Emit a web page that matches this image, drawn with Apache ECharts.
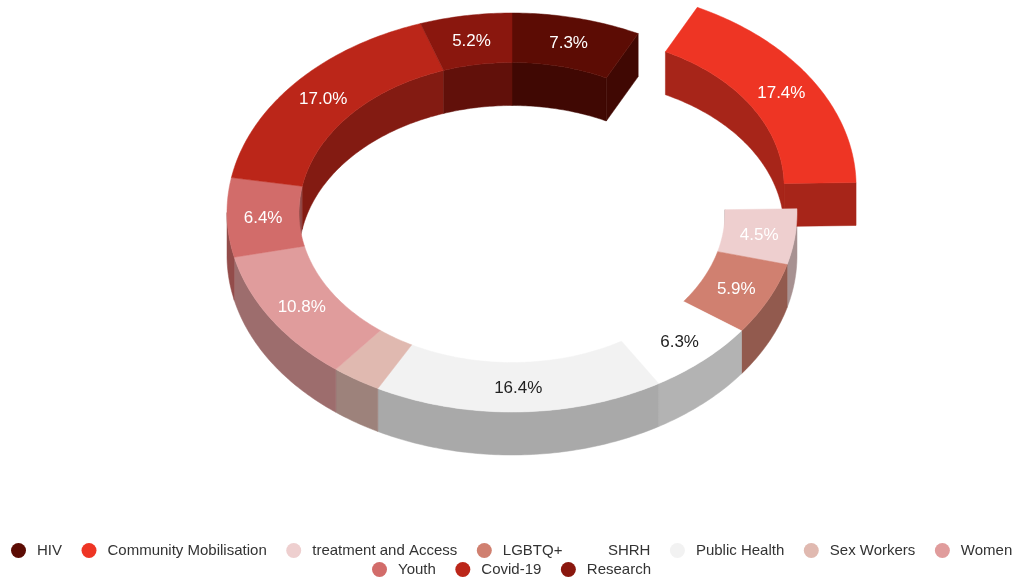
<!DOCTYPE html>
<html>
<head>
<meta charset="utf-8">
<title>Donut</title>
<style>
  html, body { margin: 0; padding: 0; background: #fff; }
  #chart { width: 1013px; height: 579px; }
</style>
<script src="https://cdn.jsdelivr.net/npm/echarts@6/dist/echarts.min.js"></script>
</head>
<body>
<div id="chart"></div>
<script>
const categories = ['HIV', 'Community Mobilisation', 'treatment and Access', 'LGBTQ+', 'SHRH', 'Public Health', 'Sex Workers', 'Women', 'Youth', 'Covid-19', 'Research']
const shares = [7.3, 17.4, 4.5, 5.9, 6.3, 16.4, 2.8, 10.8, 6.4, 17.0, 5.2]
const colors = ['#5c0c04', '#ee3524', '#eecfcf', '#d08070', '#ffffff', '#f2f2f2', '#e0b9b0', '#e09c9c', '#d26c6a', '#bb2619', '#8a170e']
const labelColors = ['#fff', '#fff', '#fff', '#fff', '#222', '#222', '#fff', '#fff', '#fff', '#fff', '#fff']
const hiddenLabels = ['Sex Workers']
const exploded = ['Community Mobilisation']
const legendRow1 = categories.slice(0, 8)
const legendRow2 = categories.slice(8)

// ring geometry of the tilted donut
const cx = 512
const cy = 212.5
const outerRx = 285
const outerRy = 199.5
const innerRx = 213
const innerRy = 150
const depth = 43
const explodeDist = 70
const tilt = 0.7

const total = shares.reduce((a, b) => a + b, 0)

function shade (hex) {
  const c = echarts.color.parse(hex)
  return 'rgb(' + Math.round(c[0] * 0.7) + ',' + Math.round(c[1] * 0.7) + ',' + Math.round(c[2] * 0.7) + ')'
}

function arc (from, to, rx, ry, ox, oy) {
  const pts = []
  const steps = Math.max(2, Math.ceil((to - from) / (Math.PI / 240)))
  for (let i = 0; i <= steps; i++) {
    const a = from + (to - from) * i / steps
    pts.push([ox + rx * Math.sin(a), oy - ry * Math.cos(a)])
  }
  return pts
}

function poly (points, fill, z2) {
  return {
    type: 'polygon',
    shape: { points: points },
    style: { fill: fill, stroke: fill, lineWidth: 0.5 },
    z2: z2,
    silent: true
  }
}

function down (pts) {
  return pts.map(p => [p[0], p[1] + depth]).reverse()
}

function isExploded (i) {
  return exploded.indexOf(categories[(i + categories.length) % categories.length]) >= 0
}

function renderSlice (params, api) {
  const idx = params.seriesIndex
  const before = shares.slice(0, idx).reduce((a, b) => a + b, 0)
  const start = before / total * Math.PI * 2
  const end = (before + api.value(0)) / total * Math.PI * 2
  const mid = (start + end) / 2
  const name = categories[idx]
  const color = colors[idx]
  const wall = shade(color)
  let ox = cx
  let oy = cy
  if (isExploded(idx)) {
    ox += explodeDist * Math.sin(mid)
    oy -= explodeDist * tilt * Math.cos(mid)
  }
  const children = []

  // inner wall shows on the far half, outer wall on the near half
  const a1 = Math.max(start, Math.PI / 2)
  const a2 = Math.min(end, Math.PI * 1.5)
  if (a2 > a1) {
    const o = arc(a1, a2, outerRx, outerRy, ox, oy)
    children.push(poly(o.concat(down(o)), wall, 2))
  }
  const inn = []
  if (start < Math.PI / 2) inn.push([start, Math.min(end, Math.PI / 2)])
  if (end > Math.PI * 1.5) inn.push([Math.max(start, Math.PI * 1.5), end])
  inn.forEach(r => {
    const p = arc(r[0], r[1], innerRx, innerRy, ox, oy)
    children.push(poly(p.concat(down(p)), wall, 1))
  })

  // radial end faces only exist next to the gap of the pulled out slice
  const face = a => {
    const e = [
      [ox + innerRx * Math.sin(a), oy - innerRy * Math.cos(a)],
      [ox + outerRx * Math.sin(a), oy - outerRy * Math.cos(a)]
    ]
    return poly(e.concat(down(e)), wall, 3)
  }
  if (Math.sin(end) > 0 && (isExploded(idx) || isExploded(idx + 1))) children.push(face(end))
  if (Math.sin(start) < 0 && (isExploded(idx) || isExploded(idx - 1))) children.push(face(start))

  const top = arc(start, end, outerRx, outerRy, ox, oy).concat(arc(start, end, innerRx, innerRy, ox, oy).reverse())
  children.push(poly(top, color, 10))

  if (hiddenLabels.indexOf(name) < 0) {
    children.push({
      type: 'text',
      z2: 20,
      silent: true,
      style: {
        x: ox + (outerRx + innerRx) / 2 * Math.sin(mid),
        y: oy - (outerRy + innerRy) / 2 * Math.cos(mid) + 1,
        text: api.value(0).toFixed(1) + '%',
        fill: labelColors[idx],
        font: '17px "Liberation Sans", Arial, sans-serif',
        align: 'center',
        verticalAlign: 'middle'
      }
    })
  }
  return { type: 'group', children: children }
}

const legendBase = {
  icon: 'circle',
  orient: 'horizontal',
  padding: 0,
  width: 1013,
  itemWidth: 15,
  itemHeight: 15,
  itemGap: 19.5,
  selectedMode: false,
  textStyle: {
    color: '#333',
    fontSize: 15,
    fontFamily: '"Liberation Sans", Arial, sans-serif',
    padding: [0, 0, 0, 6]
  }
}

const chart = echarts.init(document.getElementById('chart'))
chart.setOption({
  animation: false,
  backgroundColor: '#fff',
  legend: [
    Object.assign({}, legendBase, { data: legendRow1, left: 11, top: 543 }),
    Object.assign({}, legendBase, { data: legendRow2, left: 372, top: 562 })
  ],
  series: categories.map((name, i) => ({
    name: name,
    type: 'custom',
    coordinateSystem: 'none',
    renderItem: renderSlice,
    itemStyle: { color: colors[i] },
    data: [[shares[i]]]
  }))
})
</script>
</body>
</html>
